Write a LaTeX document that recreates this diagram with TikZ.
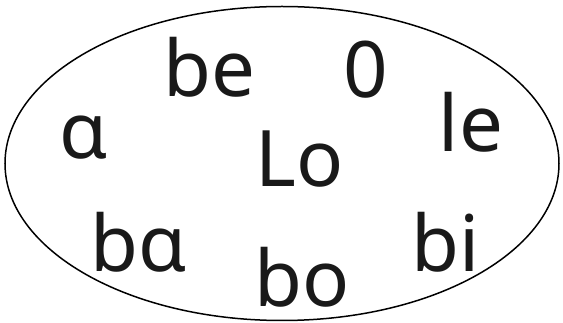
\documentclass[tikz,border=0pt]{standalone}
\usepackage{fontspec}
\setmainfont{Noto Sans}
\begin{document}
\begin{tikzpicture}[x=1pt,y=-1pt,
  word/.style={anchor=base,inner sep=0pt,font=\fontsize{78}{78}\selectfont,text=black!90}]
\useasboundingbox (0,0) rectangle (563,323);
\draw[line width=1.5pt] (282,163.5) ellipse [x radius=277, y radius=157];
\node[word] (be) at (209.5,97) {be};
\node[word] (zero) at (365.5,98) {0};
\node[word] (a) at (83,159) {ɑ};
\node[word] (lo) at (300,187) {Lo};
\node[word] (le) at (471,152) {le};
\node[word] (ba) at (138.5,272) {bɑ};
\node[word] (bo) at (302,307) {bo};
\node[word] (bi) at (445.5,272) {bi};
\end{tikzpicture}
\end{document}
